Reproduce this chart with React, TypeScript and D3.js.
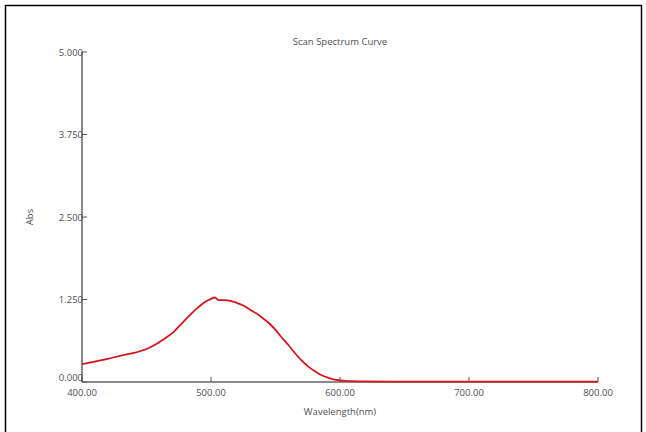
import React, { useEffect, useRef } from 'react';
import * as d3 from 'd3';

// wavelength (nm) / absorbance
const wavelengths = [400, 410, 420, 430, 440, 450, 458, 465, 470, 475, 480, 485, 490, 495, 500, 503, 506, 510, 515, 520, 525, 530, 535, 540, 545, 550, 555, 560, 565, 570, 575, 580, 585, 590, 595, 600, 610, 620, 640, 660, 700, 750, 800];
const absorbance = [0.27, 0.31, 0.35, 0.4, 0.44, 0.5, 0.58, 0.67, 0.74, 0.84, 0.94, 1.04, 1.13, 1.21, 1.26, 1.28, 1.24, 1.24, 1.23, 1.2, 1.16, 1.1, 1.04, 0.97, 0.89, 0.79, 0.67, 0.56, 0.44, 0.33, 0.24, 0.17, 0.11, 0.07, 0.04, 0.025, 0.012, 0.008, 0.006, 0.006, 0.006, 0.006, 0.006];
const yTicks = [0, 1.25, 2.5, 3.75, 5];
const xTicks = [400, 500, 600, 700, 800];

const W = 646, H = 432;
const margin = { left: 82, right: 48, top: 52, bottom: 50 };

export default function App() {
  const ref = useRef<SVGSVGElement>(null);

  useEffect(() => {
    const svg = d3.select(ref.current);
    svg.selectAll('*').remove();

    const x = d3.scaleLinear().domain([400, 800]).range([margin.left, W - margin.right]);
    const y = d3.scaleLinear().domain([0, 5]).range([H - margin.bottom, margin.top]);

    // frame
    svg.append('path')
      .attr('d', `M5.5,${H} L5.5,5.5 L641.5,5.5 L641.5,${H}`)
      .attr('fill', 'none').attr('stroke', '#000').attr('stroke-width', 1.5);

    const font = '"Open Sans", "DejaVu Sans", sans-serif';
    const txt = '#505050';

    svg.append('text')
      .attr('x', (x(400) + x(800)) / 2).attr('y', 45)
      .attr('text-anchor', 'middle')
      .attr('font-family', font).attr('font-size', 9.5).attr('fill', txt)
      .text('Scan Spectrum Curve');

    // axes
    const ax = '#8a8a8a';
    svg.append('line')
      .attr('x1', x(400)).attr('x2', x(400))
      .attr('y1', y(5)).attr('y2', y(0))
      .attr('stroke', ax).attr('stroke-width', 2);
    svg.append('line')
      .attr('x1', x(400)).attr('x2', x(800))
      .attr('y1', y(0)).attr('y2', y(0))
      .attr('stroke', ax).attr('stroke-width', 2);

    const yg = svg.append('g');
    yTicks.forEach(t => {
      yg.append('line')
        .attr('x1', x(400)).attr('x2', x(400) + 5)
        .attr('y1', y(t)).attr('y2', y(t))
        .attr('stroke', '#555').attr('stroke-width', 1);
      yg.append('text')
        .attr('x', x(400) + 1).attr('y', y(t) + (t === 0 ? -1.5 : 3.5))
        .attr('text-anchor', 'end')
        .attr('font-family', font).attr('font-size', 9.5).attr('fill', txt)
        .text(t.toFixed(3));
    });

    const xg = svg.append('g');
    xTicks.forEach(t => {
      xg.append('line')
        .attr('x1', x(t)).attr('x2', x(t))
        .attr('y1', y(0)).attr('y2', y(0) - 5)
        .attr('stroke', '#555').attr('stroke-width', 1);
      xg.append('text')
        .attr('x', x(t)).attr('y', y(0) + 14)
        .attr('text-anchor', 'middle')
        .attr('font-family', font).attr('font-size', 9.5).attr('fill', txt)
        .text(t.toFixed(2));
    });

    const line = d3.line<number>()
      .x((d, i) => x(wavelengths[i]))
      .y(d => y(d))
      .curve(d3.curveMonotoneX);

    svg.append('path')
      .datum(absorbance)
      .attr('d', line)
      .attr('fill', 'none')
      .attr('stroke', '#d9141c')
      .attr('stroke-width', 1.8);

    svg.append('text')
      .attr('x', (x(400) + x(800)) / 2).attr('y', 415)
      .attr('text-anchor', 'middle')
      .attr('font-family', font).attr('font-size', 9.5).attr('fill', txt)
      .text('Wavelength(nm)');

    svg.append('text')
      .attr('transform', `translate(33,${(y(0) + y(5)) / 2}) rotate(-90)`)
      .attr('text-anchor', 'middle')
      .attr('font-family', font).attr('font-size', 9.5).attr('fill', txt)
      .text('Abs');
  }, []);

  return (
    <svg ref={ref} width={W} height={H}
      style={{ position: 'absolute', left: 0, top: 0, background: '#fff' }} />
  );
}
